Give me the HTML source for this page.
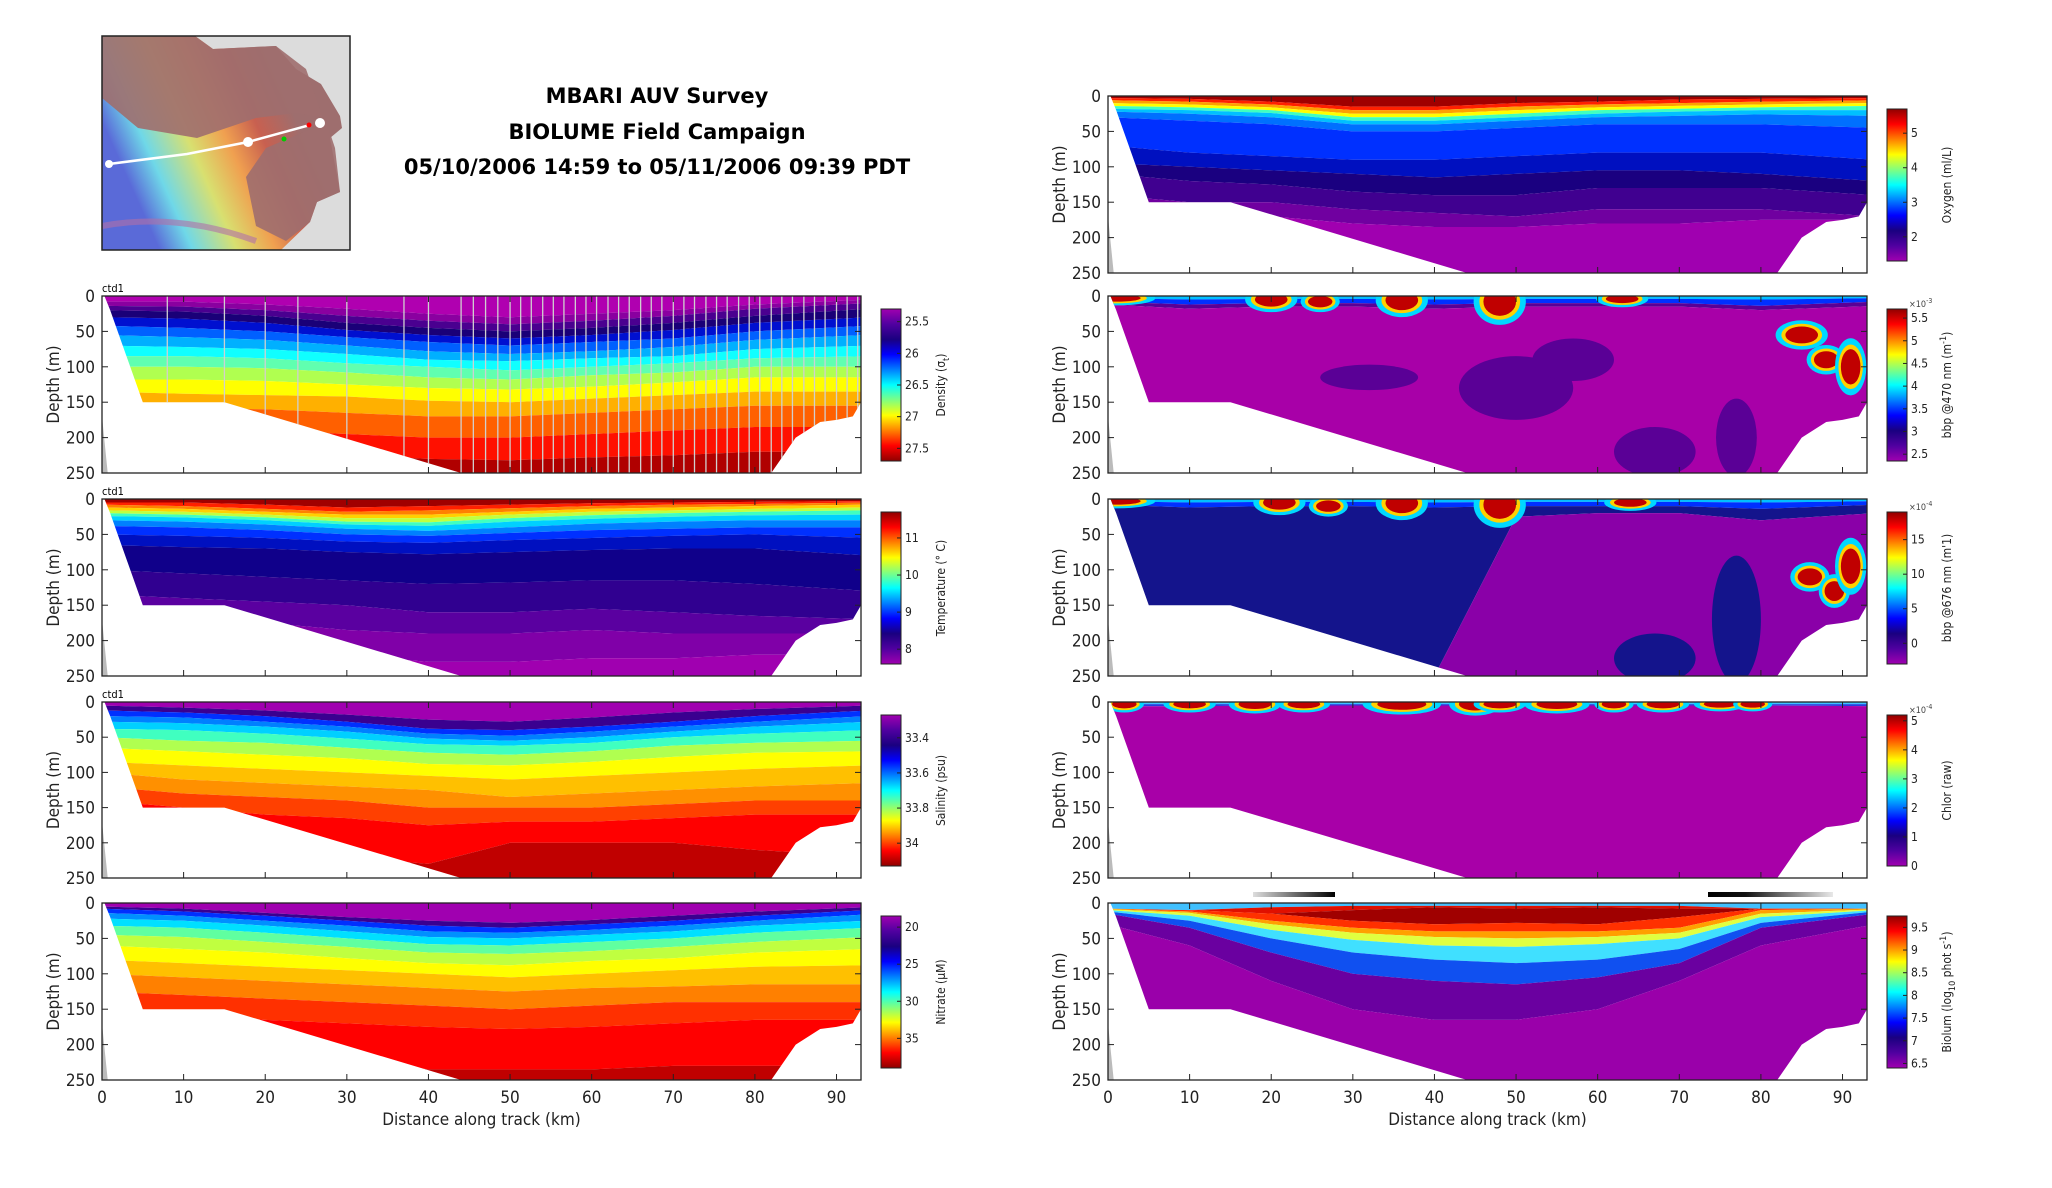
<!DOCTYPE html>
<html><head><meta charset="utf-8">
<style>
html,body{margin:0;padding:0;background:#fff;}
body{width:2052px;height:1188px;overflow:hidden;font-family:"DejaVu Sans Condensed","Liberation Sans",sans-serif;}
svg{position:absolute;left:0;top:0;}
</style></head>
<body>
<svg id="fig" width="2052" height="1188" viewBox="0 0 2052 1188" xmlns="http://www.w3.org/2000/svg">
 <defs>
  <linearGradient id="mapg" x1="0" y1="0.4" x2="1" y2="0">
   <stop offset="0" stop-color="#5a6ad8"/><stop offset="0.12" stop-color="#6fd8e8"/>
   <stop offset="0.28" stop-color="#d8e070"/><stop offset="0.42" stop-color="#f0a050"/>
   <stop offset="0.55" stop-color="#c86050"/><stop offset="0.7" stop-color="#9e6e6e"/>
   <stop offset="1" stop-color="#9e6e6e"/>
  </linearGradient>
 </defs>
 <g>
  <rect x="102" y="36" width="248" height="214" fill="#dcdcdc"/>
  <path d="M102,36 L195,36 L213,49 L276,46 L296,69 L321,84 L340,116 L342,128 L330,138 L340,192 L317,202 L310,222 L281,250 L102,250 Z" fill="url(#mapg)"/>
  <path d="M102,36 L102,98 L138,128 L197,138 L256,118 L296,113 L325,118 L335,148 L340,192 L317,202 L310,222 L286,241 L256,226 L246,177 L266,148 L325,123 L306,69 L276,46 L213,49 L195,36 Z" fill="#9e6e6e" opacity="0.9"/>
  <path d="M102,226 Q177,212 256,241" stroke="#b070a8" stroke-width="6" fill="none" opacity="0.6"/>
  <polyline points="109,164 187,154 248,142 310,125" stroke="#fff" stroke-width="2.5" fill="none"/>
  <circle cx="109" cy="164" r="4" fill="#fff"/><circle cx="248" cy="142" r="5" fill="#fff"/><circle cx="320" cy="123" r="5" fill="#fff"/>
  <circle cx="309" cy="125" r="2.5" fill="#f00"/><circle cx="284" cy="139" r="2.5" fill="#0c0"/>
  <rect x="102" y="36" width="248" height="214" fill="none" stroke="#222" stroke-width="1.5"/>
 </g>
 <g font-family="'DejaVu Sans','Liberation Sans',sans-serif" font-weight="bold" font-size="21" text-anchor="middle" fill="#000">
  <text x="657" y="103">MBARI AUV Survey</text>
  <text x="657" y="139">BIOLUME Field Campaign</text>
  <text x="657" y="174">05/10/2006 14:59 to 05/11/2006 09:39 PDT</text>
 </g>
</svg>
<script>
// ---------------- data ----------------
const stations=[0,10,20,30,40,50,60,70,80,93];
const shapeKm=[0.3,1,5,15,44,82,85,88,90,92,93,93];
const shapeDepth=[0,20,150,150,250,250,200,178,175,170,150,0];
const xTicks=[0,10,20,30,40,50,60,70,80,90];
const yTicks=[0,50,100,150,200,250];

const densColors=['#b000b0','#8a00a0','#4a0090','#1a0078','#0010d0','#0060ff','#00b0ff','#10ffff','#60ffb0','#b0ff50','#ffff00','#ffb000','#ff6000','#ff1000','#b00000'];
const densBounds=[
[8,8,12,18,25,30,25,20,12,5],[14,15,20,28,35,40,35,28,18,10],[20,22,28,38,45,50,45,38,28,18],
[30,32,38,48,55,60,55,48,38,30],[42,45,50,58,65,70,65,60,50,42],[55,58,62,70,78,82,78,72,62,55],
[70,72,75,82,90,92,88,85,75,70],[85,85,88,95,100,105,100,95,88,85],[100,100,102,108,115,118,112,108,100,100],
[118,118,120,125,130,132,128,122,115,115],[135,138,140,142,148,150,145,140,135,135],[155,158,160,165,170,170,165,160,155,155],
[185,190,190,195,200,200,195,190,185,185],[215,220,220,225,230,232,228,225,220,220]];

const tempColors=['#a00000','#ff2000','#ff8000','#ffd000','#c0ff40','#40ffc0','#00d0ff','#0080ff','#0030ff','#0010c0','#10008a','#300090','#5a00a0','#8000a8','#a000b0'];
const tempBounds=[
[5,5,8,12,10,8,6,5,4,3],[8,10,14,18,16,13,10,8,7,5],[12,14,18,22,22,18,14,12,10,8],[16,18,22,27,27,22,18,16,14,12],
[20,22,26,32,33,27,23,20,18,16],[24,26,30,36,38,32,28,25,23,22],[30,32,36,42,45,40,35,32,30,30],[38,40,44,50,52,48,44,42,40,40],
[50,52,55,60,62,58,55,52,50,55],[65,68,70,75,78,75,72,70,70,80],[100,105,110,115,120,118,115,115,120,130],
[135,140,145,150,160,160,155,160,165,170],[160,170,175,185,190,190,185,190,190,190],[200,210,215,220,230,230,225,225,220,220]];

const salColors=['#a000b0','#3a0090','#0030ff','#0080ff','#00d0ff','#40ffc0','#b0ff50','#ffff00','#ffc000','#ff9000','#ff4000','#ff0000','#c00000'];
const salBounds=[
[5,8,12,18,25,28,22,15,10,5],[12,15,20,28,38,40,35,28,20,12],[20,22,28,35,45,48,42,35,28,20],[28,30,35,42,52,55,50,42,35,28],
[38,40,45,52,60,62,58,50,45,40],[50,55,58,65,72,75,70,62,58,55],[65,70,75,80,88,90,85,78,72,70],[85,90,95,100,105,110,105,100,95,90],
[100,110,115,120,125,135,130,125,120,115],[120,130,135,140,150,150,150,145,140,140],[140,150,160,165,175,170,170,165,160,160],
[200,210,215,220,230,200,200,200,210,220]];

const nitColors=['#a000b0','#3a0090','#0030ff','#0090ff','#00e0ff','#60ffa0','#c0ff40','#ffff00','#ffc000','#ff8000','#ff3000','#ff0000','#c00000'];
const nitBounds=[
[5,8,14,20,25,28,24,18,12,6],[8,12,18,25,32,35,30,25,18,10],[14,18,25,32,40,42,38,32,25,16],[22,25,32,40,48,50,45,40,32,25],
[32,35,42,50,58,60,55,50,42,35],[45,48,55,62,70,72,68,62,55,48],[60,65,70,78,85,88,82,78,70,65],[80,85,90,95,100,105,100,95,90,88],
[100,105,110,115,120,125,120,118,115,115],[125,130,135,140,145,150,145,140,140,140],[145,155,165,170,175,178,175,170,165,165],
[200,210,215,220,235,235,235,230,230,230]];

const oxyColors=['#a00000','#ff2000','#ffa000','#ffff00','#40ffc0','#00c0ff','#0070ff','#0030ff','#0010c0','#1a0080','#400090','#7000a0','#a000b0'];
const oxyBounds=[
[3,4,8,15,15,10,8,5,4,3],[6,8,12,20,20,15,12,10,8,6],[10,12,16,25,25,20,16,14,12,10],[14,16,20,30,30,25,20,18,16,14],
[18,20,24,35,35,30,25,22,20,20],[22,25,30,40,40,35,30,28,26,28],[30,35,40,50,50,45,40,40,40,45],[70,80,85,90,90,85,80,80,80,90],
[95,100,105,110,115,110,105,105,110,120],[110,120,125,135,140,140,130,130,130,140],[140,150,150,160,165,170,160,160,160,170],
[160,170,170,180,185,185,180,180,175,175]];

const bbpColors=['#00c0ff','#0030ff','#5a0096','#a800a8'];
const bbpBounds=[[3,5,4,4,5,4,4,4,5,3],[8,12,10,10,12,10,10,10,14,8],[12,18,15,15,18,15,15,15,20,14]];
const b676Colors=['#00c0ff','#0030ff','#14148c','#8a00a8'];
const b676Bounds=[[3,5,4,4,5,4,4,4,5,3],[8,12,10,10,12,10,10,10,14,8],[250,250,250,250,250,25,20,20,30,20]];
const chlColors=['#40c0ff','#2040e0','#a800a8'];
const chlBounds=[[3,3,3,3,3,3,3,3,3,3],[6,6,5,5,5,5,5,5,5,6]];

const bioColors=['#40c0ff','#e01000','#a00000','#ff3000','#ffa000','#e0ff40','#40e0ff','#1050f0','#6a00a0','#9a00aa'];
const bioBounds=[
[8,10,6,4,4,4,4,4,8,8],[8,10,15,10,6,8,6,8,8,8],[8,10,15,25,30,28,30,20,8,8],[8,12,25,35,40,40,40,35,10,8],
[9,14,30,42,48,50,48,42,15,9],[10,18,38,52,60,62,58,50,20,10],[12,25,50,70,80,85,80,65,28,12],
[15,35,70,100,110,115,105,85,35,15],[30,60,110,150,165,165,150,110,60,30]];

// surface / subsurface patches (km, depth m, radius km, radius m)
const bbp470PatchKm=[1,20,26,36,48,63,85,88,91];
const bbp470PatchD=[3,5,8,6,8,4,55,90,100];
const bbp470PatchR=[3,2,1.5,2,2,2,2,1.5,1.2];
const bbp470PatchRd=[5,10,8,14,20,6,12,12,25];
const bbp676PatchKm=[1,21,27,36,48,64,86,89,91];
const bbp676PatchD=[3,5,10,6,8,5,110,130,95];
const bbp676PatchR=[3,2,1.5,2,2,2,1.5,1.2,1.2];
const bbp676PatchRd=[5,10,8,14,20,6,12,14,25];
const chlPatchKm=[2,10,18,24,36,45,48,55,62,68,75,79];
const chlPatchD=[3,3,3,3,3,3,3,3,3,3,3,3];
const chlPatchR=[1.5,2,2,2,3,2,2,2.5,1.5,2,2,1.5];
const chlPatchRd=[6,6,7,6,8,9,6,7,6,6,5,5];
const bbp470BlobKm=[32,50,57,67,77];
const bbp470BlobD=[115,130,90,220,200];
const bbp470BlobRk=[6,7,5,5,2.5];
const bbp470BlobRd=[18,45,30,35,55];
const bbp676BlobKm=[67,77];
const bbp676BlobD=[225,170];
const bbp676BlobRk=[5,3];
const bbp676BlobRd=[35,90];
const castKm=[8,15,20,24,30,37,40,44,45.5,47,48.5,50,51.3,52.6,54,55.3,56.6,58,59.3,60.6,62,63.3,64.6,66,67.3,68.6,70,71.3,72.6,74,75.3,76.6,78,79.3,80.6,82,83.3,84.6,86,87.3,88.6,90,91.3,92.6];

const cbJet=['#a000b0','#5000a0','#1a0080','#0000ff','#0080ff','#00ffff','#80ff80','#ffff00','#ff8000','#ff0000','#900000'];

// ---------------- layout ----------------
const LX=102, W=759, RX=1108;
const panels=[
 {id:'density',x:LX,y:296,h:177,colors:densColors,bounds:densBounds,ctd:true,casts:true,cb:{min:25.3,max:27.7,flip:false,ticks:[25.5,26,26.5,27,27.5],labels:['25.5','26','26.5','27','27.5'],title:'Density (σ',sub:'t',after:')',grad:cbJet}},
 {id:'temperature',x:LX,y:499,h:177,colors:tempColors,bounds:tempBounds,ctd:true,cb:{min:7.6,max:11.7,flip:true,ticks:[8,9,10,11],labels:['8','9','10','11'],title:'Temperature (° C)',grad:cbJet}},
 {id:'salinity',x:LX,y:702,h:176,colors:salColors,bounds:salBounds,ctd:true,cb:{min:33.27,max:34.13,flip:false,ticks:[33.4,33.6,33.8,34],labels:['33.4','33.6','33.8','34'],title:'Salinity (psu)',grad:cbJet}},
 {id:'nitrate',x:LX,y:903,h:177,colors:nitColors,bounds:nitBounds,xlab:true,cb:{min:18.5,max:39,flip:false,ticks:[20,25,30,35],labels:['20','25','30','35'],title:'Nitrate (μM)',grad:cbJet}},
 {id:'oxygen',x:RX,y:96,h:177,colors:oxyColors,bounds:oxyBounds,cb:{min:1.3,max:5.7,flip:true,ticks:[2,3,4,5],labels:['2','3','4','5'],title:'Oxygen (ml/L)',grad:cbJet}},
 {id:'bbp470',x:RX,y:296,h:177,colors:bbpColors,bounds:bbpBounds,bk:bbp470BlobKm,bd:bbp470BlobD,brk:bbp470BlobRk,brd:bbp470BlobRd,blobCol:'#5a0096',pk:bbp470PatchKm,pd:bbp470PatchD,pr:bbp470PatchR,prd:bbp470PatchRd,cb:{min:2.35,max:5.7,flip:true,ticks:[2.5,3,3.5,4,4.5,5,5.5],labels:['2.5','3','3.5','4','4.5','5','5.5'],title:'bbp @470 nm (m',sup:'-1',after:')',exp:'-3',grad:cbJet}},
 {id:'bbp676',x:RX,y:499,h:177,colors:b676Colors,bounds:b676Bounds,bk:bbp676BlobKm,bd:bbp676BlobD,brk:bbp676BlobRk,brd:bbp676BlobRd,blobCol:'#14148c',pk:bbp676PatchKm,pd:bbp676PatchD,pr:bbp676PatchR,prd:bbp676PatchRd,cb:{min:-3,max:19,flip:true,ticks:[0,5,10,15],labels:['0','5','10','15'],title:"bbp @676 nm (m'1)",exp:'-4',grad:cbJet}},
 {id:'chlor',x:RX,y:702,h:176,colors:chlColors,bounds:chlBounds,pk:chlPatchKm,pd:chlPatchD,pr:chlPatchR,prd:chlPatchRd,cb:{min:0,max:5.2,flip:true,ticks:[0,1,2,3,4,5],labels:['0','1','2','3','4','5'],title:'Chlor (raw)',exp:'-4',grad:cbJet}},
 {id:'biolum',x:RX,y:903,h:177,colors:bioColors,bounds:bioBounds,xlab:true,cb:{min:6.4,max:9.75,flip:true,ticks:[6.5,7,7.5,8,8.5,9,9.5],labels:['6.5','7','7.5','8','8.5','9','9.5'],title:'Biolum (log',sub:'10',after:' phot s',sup2:'-1',after2:')',grad:cbJet}}
];

const NS='http://www.w3.org/2000/svg';
const fig=document.getElementById('fig');
function mk(tag,attrs,parent){const e=document.createElementNS(NS,tag);for(const k in attrs)e.setAttribute(k,attrs[k]);(parent||fig).appendChild(e);return e;}
let defs=fig.querySelector('defs');

panels.forEach((p,pi)=>{
  const H=p.h;
  const xs=km=>p.x+km/93*W;
  const ys=d=>p.y+d/250*H;
  const g=mk('g',{});
  
  
  const cp=mk('clipPath',{id:'clip'+pi},defs);
  mk('polygon',{points:shapeKm.map((k,i)=>xs(k)+','+ys(shapeDepth[i])).join(' ')},cp);
  const field=mk('g',{'clip-path':'url(#clip'+pi+')'},g);
  
  
  const nb=p.bounds.length;
  for(let b=0;b<=nb;b++){
    const top=b===0?stations.map(()=>-5):p.bounds[b-1];
    const bot=b===nb?stations.map(()=>260):p.bounds[b];
    const pts=stations.map((s,i)=>xs(s===93?94:s)+','+ys(top[i]));
    for(let i=stations.length-1;i>=0;i--)pts.push(xs(stations[i]===93?94:stations[i])+','+ys(bot[i]));
    const poly=mk('polygon',{points:pts.join(' '),fill:p.colors[b]},field);
    
    
  }
  if(p.bk){
    p.bk.forEach((k,i)=>{
      const e=mk('ellipse',{cx:xs(k),cy:ys(p.bd[i]),rx:p.brk[i]/93*W,ry:p.brd[i]/250*H,fill:p.blobCol},field);
      
      
    });
  }
  if(p.pk){
    p.pk.forEach((k,i)=>{
      const rx=p.pr[i]/93*W, ry=p.prd[i]/250*H;
      const e0=mk('ellipse',{cx:xs(k),cy:ys(p.pd[i]),rx:rx*1.6,ry:ry*1.5+2,fill:'#00d8ff'},field);
      
      
      const e1=mk('ellipse',{cx:xs(k),cy:ys(p.pd[i]),rx:rx*1.25,ry:ry*1.2+1,fill:'#ffd000'},field);
      
      
      const e2=mk('ellipse',{cx:xs(k),cy:ys(p.pd[i]),rx:rx,ry:ry,fill:'#c00000'},field);
      
      
    });
  }
  if(p.casts){
    castKm.forEach(k=>{
      const ln=mk('line',{x1:xs(k),x2:xs(k),y1:ys(0),y2:ys(250),stroke:'#d0d0d0','stroke-width':1.3},field);
      
      
    });
  }
  mk('polygon',{points:[xs(0)+','+ys(170),xs(0.7)+','+ys(250),xs(0)+','+ys(250)].join(' '),fill:'#bbb'},g);
  const box=mk('rect',{x:p.x,y:p.y,width:W,height:H,fill:'none',stroke:'#222','stroke-width':1.3},g);
  
  
  xTicks.forEach(t=>{
    mk('line',{x1:xs(t),x2:xs(t),y1:p.y+H,y2:p.y+H-6,stroke:'#222'},g);
    mk('line',{x1:xs(t),x2:xs(t),y1:p.y,y2:p.y+6,stroke:'#222'},g);
    if(p.xlab){const tx=mk('text',{x:xs(t),y:p.y+H+23,'font-size':17,'text-anchor':'middle',fill:'#222'},g);tx.textContent=t;
      }
  });
  yTicks.forEach(t=>{
    mk('line',{x1:p.x,x2:p.x+6,y1:ys(t),y2:ys(t),stroke:'#222'},g);
    mk('line',{x1:p.x+W,x2:p.x+W-6,y1:ys(t),y2:ys(t),stroke:'#222'},g);
    const tx=mk('text',{x:p.x-7,y:ys(t)+6,'font-size':17,'text-anchor':'end',fill:'#222'},g);tx.textContent=t;
    
  });
  const yl=mk('text',{x:0,y:0,'font-size':17,'text-anchor':'middle',fill:'#222',transform:`translate(${p.x-43},${p.y+H/2}) rotate(-90)`},g);
  yl.textContent='Depth (m)';
  
  if(p.xlab){const xl=mk('text',{x:p.x+W/2,y:p.y+H+45,'font-size':17,'text-anchor':'middle',fill:'#222'},g);xl.textContent='Distance along track (km)';
    }
  if(p.ctd){const ct=mk('text',{x:p.x,y:p.y-4,'font-size':11,fill:'#000'},g);ct.textContent='ctd1';
    }
  const c=p.cb, cx=p.x+W+20, cy=p.y+13, ch=H-25, cw=20;
  const gid='cbg'+pi;
  const lg=mk('linearGradient',{id:gid,x1:0,y1:c.flip?1:0,x2:0,y2:c.flip?0:1},defs);
  c.grad.forEach((col,i)=>mk('stop',{offset:i/(c.grad.length-1),'stop-color':col},lg));
  const cg=mk('g',{},g);
  
  
  mk('rect',{x:cx,y:cy,width:cw,height:ch,fill:'url(#'+gid+')',stroke:'#222','stroke-width':1},cg);
  const cyv=v=>c.flip? cy+(c.max-v)/(c.max-c.min)*ch : cy+(v-c.min)/(c.max-c.min)*ch;
  c.ticks.forEach((t,i)=>{
    mk('line',{x1:cx+cw-4,x2:cx+cw,y1:cyv(t),y2:cyv(t),stroke:'#222'},cg);
    const tx=mk('text',{x:cx+cw+4,y:cyv(t)+4,'font-size':12,fill:'#222'},cg);tx.textContent=c.labels[i];
    
  });
  if(c.exp){const ex=mk('text',{x:cx+cw+2,y:cy-2,'font-size':9,fill:'#444'},cg);ex.textContent='×10';
    mk('tspan',{dy:-4,'font-size':7},ex).textContent=c.exp;}
  const tt=mk('text',{x:0,y:0,'font-size':12,'text-anchor':'middle',fill:'#222',transform:`translate(${cx+cw+44},${cy+ch/2}) rotate(-90)`},cg);
  
  tt.appendChild(document.createTextNode(c.title));
  if(c.sub){const s=mk('tspan',{dy:4,'font-size':9},tt);s.textContent=c.sub;const a=mk('tspan',{dy:-4},tt);a.textContent=c.after;}
  if(c.sup){const s=mk('tspan',{dy:-5,'font-size':9},tt);s.textContent=c.sup;const a=mk('tspan',{dy:5},tt);a.textContent=c.after;}
  if(c.sup2){const s=mk('tspan',{dy:-5,'font-size':9},tt);s.textContent=c.sup2;const a=mk('tspan',{dy:5},tt);a.textContent=c.after2;}
});
const gb=mk('linearGradient',{id:'gb1',x1:0,x2:1,y1:0,y2:0},defs);
mk('stop',{offset:0,'stop-color':'#ddd'},gb);mk('stop',{offset:1,'stop-color':'#000'},gb);
const gb2=mk('linearGradient',{id:'gb2',x1:0,x2:1,y1:0,y2:0},defs);
mk('stop',{offset:0,'stop-color':'#000'},gb2);mk('stop',{offset:0.3,'stop-color':'#111'},gb2);mk('stop',{offset:1,'stop-color':'#e8e8e8'},gb2);
const gl=mk('rect',{x:1253,y:892,width:82,height:5,fill:'url(#gb1)'});


const gr=mk('rect',{x:1708,y:892,width:125,height:5,fill:'url(#gb2)'});


</script>
</body></html>
